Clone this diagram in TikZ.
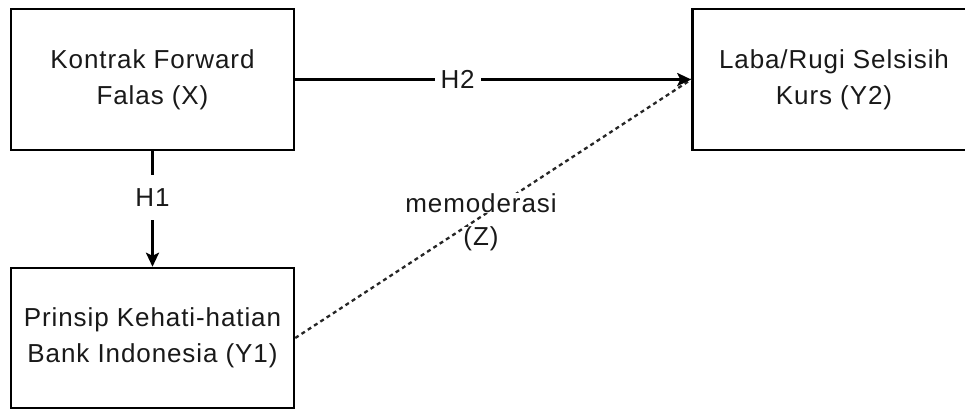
\documentclass[tikz,border=0pt]{standalone}
\usepackage{fontspec}
\setmainfont{Liberation Sans}[LetterSpace=3.5]
\usetikzlibrary{arrows.meta}

\tikzset{
  box/.style={draw=black, line width=2.5pt, fill=white, minimum width=283pt,
    minimum height=141pt, align=center, inner sep=0pt, text=black!90,
    font=\fontsize{26}{36}\selectfont},
  link/.style={line width=2.5pt, draw=black},
  tip/.style={-{Stealth[length=14pt,width=13pt,inset=3pt]}},
  lbl/.style={fill=white, text=black!90, align=center,
    font=\fontsize{26}{36}\selectfont},
  dashlink/.style={line width=2.3pt, draw=black!85, dash pattern=on 4pt off 3.5pt}
}

\begin{document}
\begin{tikzpicture}[x=1pt, y=-1pt]
  \useasboundingbox (0,0) rectangle (965,410);
  \clip (0,0) rectangle (965,410);

  % the three variables
  \node[box] (x)  at (152.5, 79.5) {Kontrak Forward\\Falas (X)};
  \node[box] (y2) at (834, 79.5)   {Laba/Rugi Selsisih\\Kurs (Y2)};
  \node[box, minimum height=140pt] (y1) at (152.5, 338) {Prinsip Kehati-hatian\\Bank Indonesia (Y1)};

  % moderating path, drawn first so the solid arrow sits on top;
  % its two-line label is blanked out line by line
  \draw[dashlink] (y1.east) -- (y2.west);
  \node[lbl, inner sep=0pt] (z1) at (481, 203) {memoderasi};
  \node[lbl, inner sep=0pt] (z2) at (481, 239) {(Z)};

  % hypotheses
  \draw[link, tip] (x.east) -- node[lbl, pos=0.41, inner xsep=6pt, inner ysep=2pt] (h2) {H2} (y2.west);
  \draw[link, tip] (x.south) -- node[lbl, pos=0.4, inner xsep=2pt, inner ysep=14pt] (h1) {H1} (y1.north);
\end{tikzpicture}
\end{document}
